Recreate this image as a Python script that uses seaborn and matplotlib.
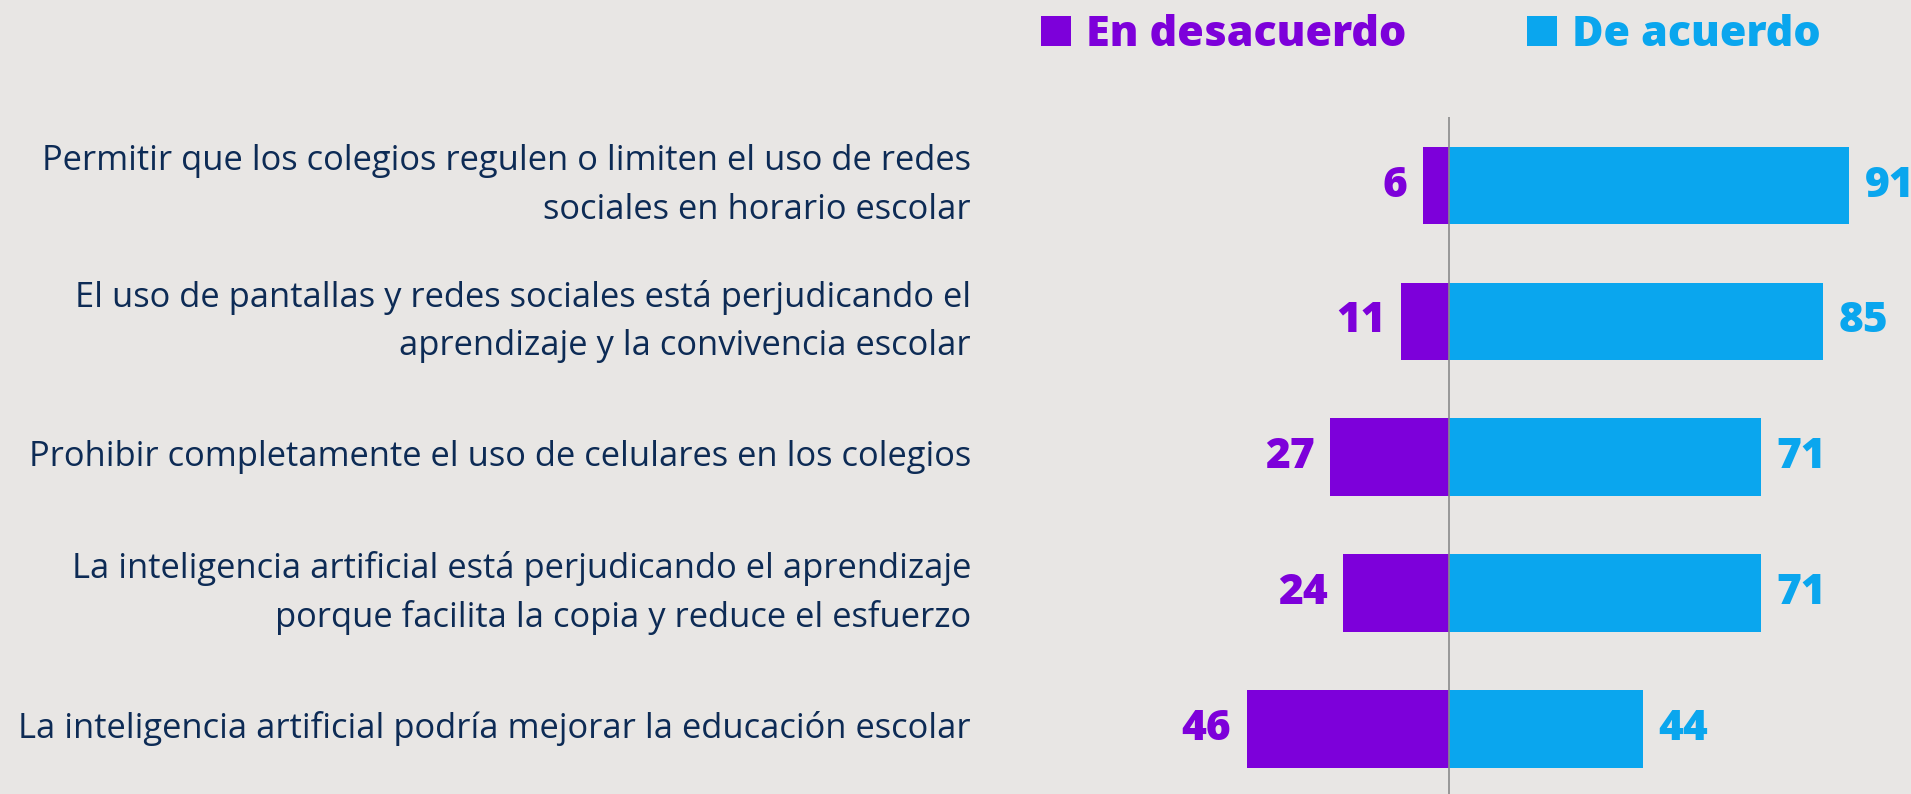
import pandas as pd
import numpy as np
from matplotlib import pyplot as plt
from matplotlib.patches import Patch
import seaborn as sns

# data
frases = [
    'Permitir que los colegios regulen o limiten el uso de redes\nsociales en horario escolar',
    'El uso de pantallas y redes sociales está perjudicando el\naprendizaje y la convivencia escolar',
    'Prohibir completamente el uso de celulares en los colegios',
    'La inteligencia artificial está perjudicando el aprendizaje\nporque facilita la copia y reduce el esfuerzo',
    'La inteligencia artificial podría mejorar la educación escolar',
]
desacuerdo = [6, 11, 27, 24, 46]
acuerdo = [91, 85, 71, 71, 44]
series = ['En desacuerdo', 'De acuerdo']
colores = ['#7D00DA', '#0AA6EE']

BG = '#E8E6E4'
NAVY = '#0D2B55'

df = pd.concat([
    pd.DataFrame({'frase': frases, 'valor': [-v for v in desacuerdo], 'serie': series[0]}),
    pd.DataFrame({'frase': frases, 'valor': acuerdo, 'serie': series[1]}),
], ignore_index=True)

sns.set_style('white')
plt.rcParams['font.family'] = ['Open Sans', 'DejaVu Sans']

fig = plt.figure(figsize=(19.11, 7.94), dpi=100, facecolor=BG)
ax = fig.add_axes([1207 / 1911, 0, 1 - 1207 / 1911, 677 / 794])
ax.set_facecolor(BG)

sns.barplot(data=df, x='valor', y='frase', hue='serie', dodge=False,
            palette=colores, saturation=1, width=0.57, orient='h', legend=False,
            linewidth=0, edgecolor='none', ax=ax)

ax.set_xlim(-55, 105)
ax.set_ylim(4.48, -0.505)
ax.axvline(0, color='#8a8a8a', lw=1.2, zorder=5)

for cont, vals, col in zip(ax.containers, [desacuerdo, acuerdo], colores):
    ax.bar_label(cont, labels=[str(v) for v in vals], padding=11, color=col,
                 fontsize=30.5, fontweight='heavy')

for s in ax.spines.values():
    s.set_visible(False)
ax.set_xticks([])
ax.set_xlabel('')
ax.set_ylabel('')
ax.tick_params(axis='y', length=0, pad=170)
for lbl in ax.get_yticklabels():
    lbl.set_fontsize(24.8)
    lbl.set_fontweight('normal')
    lbl.set_color(NAVY)
    lbl.set_horizontalalignment('right')
    lbl.set_verticalalignment('center')
    lbl.set_multialignment('right')
    lbl.set_linespacing(1.55)

handles = [Patch(facecolor=c, edgecolor='none') for c in colores]
leg = fig.legend(handles, series, loc='center left', bbox_to_anchor=(1002 / 1911, 1 - 35 / 794),
                 ncol=2, frameon=False, handlelength=0.7, handleheight=0.7,
                 handletextpad=0.35, columnspacing=2.8,
                 prop={'weight': 'heavy', 'size': 31})
for t, c in zip(leg.get_texts(), colores):
    t.set_color(c)

fig.savefig('out.png', dpi=100, facecolor=BG)
